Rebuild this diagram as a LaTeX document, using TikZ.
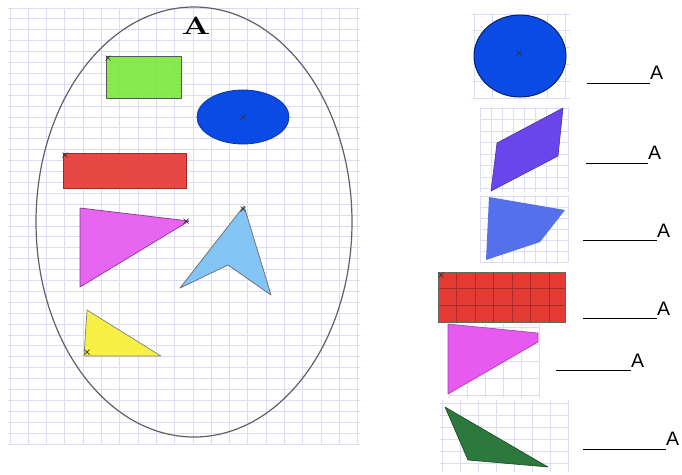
\documentclass[tikz,border=0pt]{standalone}
\usepackage{fontspec}
\newfontfamily\labelfont{Liberation Sans}
\definecolor{gridc}{RGB}{220,220,245}
\definecolor{cgreen}{RGB}{124,232,58}
\definecolor{cblue}{RGB}{10,75,230}
\definecolor{cred}{RGB}{228,58,52}
\definecolor{cmag}{RGB}{230,90,240}
\definecolor{clblue}{RGB}{125,195,245}
\definecolor{cyellow}{RGB}{248,240,60}
\definecolor{cviolet}{RGB}{105,70,235}
\definecolor{cbquad}{RGB}{85,112,235}
\definecolor{cdgreen}{RGB}{45,120,60}
\tikzset{
  gridline/.style={draw=gridc, line width=0.9},
  shapeline/.style={draw=black!65, line width=0.8, line join=round},
  xmark/.style={draw=black!80, line width=0.7},
  blank/.style={draw=black, line width=1},
  lbl/.style={font=\labelfont\fontsize{19.5}{20}\selectfont, inner sep=0pt, anchor=base west},
}
\newcommand{\xm}[2]{\draw[xmark] (#1-2.5,#2-2.5) -- (#1+2.5,#2+2.5) (#1-2.5,#2+2.5) -- (#1+2.5,#2-2.5);}
\begin{document}
\begin{tikzpicture}[x=1pt,y=-1pt]
\useasboundingbox (0,0) rectangle (682,474);
\fill[white] (0,0) rectangle (682,474);
% left grid
\foreach \i in {0,...,19} \draw[gridline] ({10+18.3*\i},8) -- ({10+18.3*\i},444);
\foreach \j in {0,...,40} \draw[gridline] (8,{8+10.9*\j}) -- (360,{8+10.9*\j});
% ellipse
\draw[draw=black!62, line width=1.2] (194,222) ellipse [x radius=158pt, y radius=215pt];
\node[inner sep=0pt, font=\fontsize{25}{25}\selectfont\bfseries] (lblA) at (196,26) {\scalebox{1.35}[1]{A}};
% green rectangle
\fill[cgreen, fill opacity=0.9] (106,56) rectangle (181,98);
\draw[shapeline] (106,56) rectangle (181,98);
\xm{108}{58}
% blue ellipse
\fill[cblue] (243,117) ellipse [x radius=46pt, y radius=27pt];
\draw[draw=cblue!70!black, line width=0.8] (243,117) ellipse [x radius=46pt, y radius=27pt];
\xm{243}{117}
% red rectangle
\fill[cred, fill opacity=0.92] (63,153) rectangle (186,188);
\draw[draw=cred!70!black, line width=0.8] (63,153) rectangle (186,188);
\xm{65}{155}
% magenta triangle
\fill[cmag, fill opacity=0.92] (80,208) -- (189,221) -- (80,287) -- cycle;
\draw[draw=cmag!60!black, line width=0.7, line join=round] (80,208) -- (189,221) -- (80,287) -- cycle;
\xm{186}{221}
% light blue arrow
\fill[clblue, fill opacity=0.95] (244,206) -- (271,295) -- (228,265) -- (180,288) -- cycle;
\draw[draw=black!55, line width=0.8, line join=round] (244,206) -- (271,295) -- (228,265) -- (180,288) -- cycle;
\xm{243}{209}
% yellow triangle
\fill[cyellow, fill opacity=0.95] (87,310) -- (161,356) -- (84,356) -- cycle;
\draw[draw=black!50, line width=0.7, line join=round] (87,310) -- (161,356) -- (84,356) -- cycle;
\xm{87}{352}
% ---------------- right side ----------------
% circle grid patch
\foreach \i in {0,...,5} \draw[gridline] ({474+18.3*\i},13) -- ({474+18.3*\i},98);
\foreach \j in {0,...,5} \draw[gridline] (473,{14+16.8*\j}) -- (570,{14+16.8*\j});
\fill[cblue] (520,56) ellipse [x radius=46pt, y radius=41pt];
\draw[draw=cblue!45!black, line width=1] (520,56) ellipse [x radius=46pt, y radius=41pt];
\xm{519}{53}
% parallelogram grid patch
\foreach \i in {0,...,8} \draw[gridline] ({480+11*\i},107) -- ({480+11*\i},192);
\foreach \j in {0,...,7} \draw[gridline] (480,{108+11.5*\j}) -- (568,{108+11.5*\j});
\fill[cviolet] (497,143) -- (563,108) -- (558,156) -- (491,191) -- cycle;
\draw[draw=cviolet!70!black, line width=0.6, line join=round] (497,143) -- (563,108) -- (558,156) -- (491,191) -- cycle;
% blue quad grid patch
\foreach \i in {0,...,8} \draw[gridline] ({480+11*\i},195) -- ({480+11*\i},262);
\foreach \j in {0,...,6} \draw[gridline] (480,{196+11*\j}) -- (568,{196+11*\j});
\fill[cbquad] (489,197) -- (565,210) -- (540,242) -- (486,260) -- cycle;
% red rectangle right
\fill[cred] (438,272) rectangle (565,322);
\foreach \i in {1,...,6} \draw[draw=cred!75!black, line width=0.6] ({438+18.5*\i},272) -- ({438+18.5*\i},322);
\foreach \j in {1,2} \draw[draw=cred!75!black, line width=0.6] (438,{272+16.7*\j}) -- (565,{272+16.7*\j});
\draw[draw=black!60, line width=1] (438,272) rectangle (565,322);
\xm{441}{275}
% magenta triangle right
\foreach \i in {0,...,5} \draw[gridline] ({449+18*\i},324) -- ({449+18*\i},398);
\foreach \j in {0,...,4} \draw[gridline] (448,{327+17*\j}) -- (540,{327+17*\j});
\fill[cmag] (448,324) -- (538,333) -- (538,342) -- (448,394) -- cycle;
\draw[draw=cmag!70!black, line width=0.6, line join=round] (448,324) -- (538,333) -- (538,342) -- (448,394) -- cycle;
% green triangle right
\foreach \i in {0,...,7} \draw[gridline] ({442+18*\i},400) -- ({442+18*\i},472);
\foreach \j in {0,...,5} \draw[gridline] (440,{403+12*\j}) -- (568,{403+12*\j});
\fill[cdgreen] (445,407) -- (548,467) -- (468,460) -- cycle;
\draw[draw=cdgreen!60!black, line width=0.6, line join=round] (445,407) -- (548,467) -- (468,460) -- cycle;
% blanks and labels
\node[lbl] (a1) at (650,79.5) {A};
\coordinate (s1) at (587,83);
\draw[blank] (s1) -- (s1 -| a1.west);
\node[lbl] (a2) at (648,159.5) {A};
\coordinate (s2) at (586,163);
\draw[blank] (s2) -- (s2 -| a2.west);
\node[lbl] (a3) at (657,237) {A};
\coordinate (s3) at (583,240);
\draw[blank] (s3) -- (s3 -| a3.west);
\node[lbl] (a4) at (657,315) {A};
\coordinate (s4) at (583,318);
\draw[blank] (s4) -- (s4 -| a4.west);
\node[lbl] (a5) at (631,367) {A};
\coordinate (s5) at (556,370);
\draw[blank] (s5) -- (s5 -| a5.west);
\node[lbl] (a6) at (666,445) {A};
\coordinate (s6) at (583,449);
\draw[blank] (s6) -- (s6 -| a6.west);
\end{tikzpicture}
\end{document}
